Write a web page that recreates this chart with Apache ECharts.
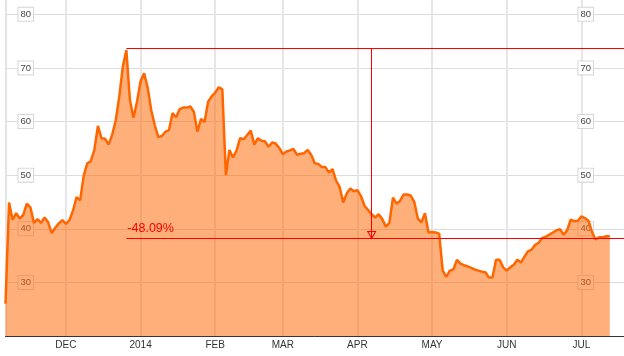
<!DOCTYPE html>
<html>
<head>
<meta charset="utf-8">
<script src="https://cdn.jsdelivr.net/npm/echarts@6/dist/echarts.min.js"></script>
<style>
html,body{margin:0;padding:0;background:#fff;}
#c{width:624px;height:356px;}
</style>
</head>
<body>
<div id="c"></div>
<script>
// Trading days per month (day numbers)
const tradingDays = {
  '2013-11': [6,7,8,11,12,13,14,15,18,19,20,21,22,25,26,27,29],
  '2013-12': [2,3,4,5,6,9,10,11,12,13,16,17,18,19,20,23,24,26,27,30,31],
  '2014-01': [2,3,6,7,8,9,10,13,14,15,16,17,21,22,23,24,27,28,29,30,31],
  '2014-02': [3,4,5,6,7,10,11,12,13,14,18,19,20,21,24,25,26,27,28],
  '2014-03': [3,4,5,6,7,10,11,12,13,14,17,18,19,20,21,24,25,26,27,28,31],
  '2014-04': [1,2,3,4,7,8,9,10,11,14,15,16,17,21,22,23,24,25,28,29,30],
  '2014-05': [1,2,5,6,7,8,9,12,13,14,15,16,19,20,21,22,23,27,28,29,30],
  '2014-06': [2,3,4,5,6,9,10,11,12,13,16,17,18,19,20,23,24,25,26,27,30],
  '2014-07': [1,2,3,7,8,9,10,11,14,15,16,17,18]
};

// Month tick labels (placed at the first trading day of each month)
const tickMonths = ['2013-12','2014-01','2014-02','2014-03','2014-04','2014-05','2014-06','2014-07'];
const tickLabels = ['DEC','2014','FEB','MAR','APR','MAY','JUN','JUL'];

// Y axis tick labels
const yTicks = [30,40,50,60,70,80];

// Daily closing prices
const closes = [
  26.0, 44.9, 41.7, 42.9, 41.9, 42.6, 44.7, 44.0, 41.1, 41.8,
  41.1, 42.1, 41.2, 39.2, 40.2, 41.0, 41.6, 40.9, 41.6, 43.4,
  45.9, 45.3, 49.9, 52.2, 52.6, 54.7, 59.2, 56.9, 56.8, 55.7,
  57.5, 60.2, 64.6, 70.2, 73.3, 64.0, 60.7, 63.7, 67.5, 69.0,
  66.3, 62.1, 59.3, 57.1, 57.3, 58.1, 58.4, 61.6, 60.8, 62.3,
  62.6, 62.6, 62.8, 61.8, 58.1, 60.5, 59.9, 63.7, 64.7, 65.4,
  66.4, 66.0, 50.0, 54.7, 53.3, 54.6, 56.9, 56.7, 57.5, 58.3,
  55.7, 56.9, 56.4, 56.3, 55.3, 56.1, 55.9, 55.1, 53.9, 54.4,
  54.6, 54.9, 53.8, 54.0, 54.1, 54.7, 53.8, 52.2, 52.1, 51.5,
  51.5, 50.5, 51.1, 49.0, 47.8, 44.9, 46.6, 47.5, 47.0, 47.2,
  46.1, 44.3, 43.5, 42.7, 42.1, 42.7, 41.8, 40.4, 41.1, 45.8,
  44.7, 45.2, 46.4, 46.4, 46.2, 45.0, 41.9, 41.2, 42.9, 39.3,
  39.4, 39.3, 39.1, 32.2, 31.0, 32.2, 32.4, 34.2, 33.5, 33.2,
  33.0, 32.7, 32.4, 32.2, 32.0, 31.9, 30.9, 30.9, 34.2, 34.2,
  32.8, 32.2, 32.8, 33.3, 34.2, 33.7, 34.8, 35.8, 36.1, 37.0,
  37.4, 38.3, 38.5, 38.9, 39.3, 39.7, 39.9, 38.9, 39.7, 41.7,
  41.4, 41.5, 42.3, 42.0, 41.5, 39.4, 38.0, 38.4, 38.4, 38.6,
  38.6
];

// Annotation (peak-to-current drop)
const peakDate = '2013-12-26';
const annotEndDate = '2014-07-18';
const arrowDate = '2014-04-07';
const peakLevel = 73.6;
const lastLevel = 38.2;
const changeText = '-48.09%';

const pad = n => (n < 10 ? '0' + n : '' + n);
const categories = [];
Object.keys(tradingDays).forEach(m => {
  tradingDays[m].forEach(d => categories.push(m + '-' + pad(d)));
});
const tickMap = {};
tickMonths.forEach((m, i) => {
  const first = categories.find(c => c.indexOf(m) === 0);
  tickMap[first] = tickLabels[i];
});
const isTick = (idx, val) => tickMap[val] !== undefined;

const FONT = '"Liberation Sans", Arial, Helvetica, sans-serif';

const yAxisBase = {
  type: 'value',
  min: 20,
  max: 82.85,
  interval: 10,
  axisTick: { show: false },
  axisLabel: {
    inside: true,
    customValues: yTicks,
    color: '#444',
    fontSize: 9.5,
    fontFamily: FONT,
    backgroundColor: '#fff',
    borderColor: '#d6d6d6',
    borderWidth: 1,
    padding: [2, 2, 1, 2]
  }
};

const chart = echarts.init(document.getElementById('c'), null, { renderer: 'canvas' });
chart.setOption({
  animation: false,
  backgroundColor: '#fff',
  grid: { left: 5.5, right: 0, top: -1, bottom: 20, containLabel: false, outerBoundsMode: 'none' },
  xAxis: {
    type: 'category',
    data: categories,
    boundaryGap: false,
    axisLine: { show: true, lineStyle: { color: '#333', width: 1 } },
    axisTick: { show: false },
    axisLabel: {
      interval: isTick,
      formatter: v => tickMap[v] || '',
      color: '#333',
      fontSize: 10,
      fontFamily: FONT,
      margin: 4
    },
    splitLine: { show: true, interval: isTick, lineStyle: { color: '#e6e6e6', width: 2 } }
  },
  yAxis: [
    Object.assign({}, yAxisBase, {
      position: 'left',
      axisLine: { show: true, lineStyle: { color: '#e4e4e4', width: 2 } },
      splitLine: { show: true, lineStyle: { color: '#dcdcdc', width: 1 } },
      axisLabel: Object.assign({}, yAxisBase.axisLabel, { margin: 13 })
    }),
    Object.assign({}, yAxisBase, {
      position: 'right',
      axisLine: { show: false },
      splitLine: { show: false },
      axisLabel: Object.assign({}, yAxisBase.axisLabel, { margin: 31 })
    })
  ],
  series: [
    {
      type: 'line',
      data: closes,
      symbol: 'none',
      showSymbol: false,
      lineStyle: { color: '#ff6600', width: 2.5 },
      areaStyle: { color: '#ff6600', opacity: 0.52, origin: 'start' },
      z: 2,
      markLine: {
        silent: true,
        symbol: ['none', 'none'],
        lineStyle: { color: '#ff0000', width: 1, type: 'solid', opacity: 1 },
        label: { show: false },
        emphasis: { disabled: true },
        data: [
          [{ coord: [peakDate, peakLevel] }, { coord: [annotEndDate, peakLevel] }],
          [
            { coord: [peakDate, lastLevel],
              label: { show: true, position: 'insideStartTop', formatter: changeText, color: '#ff0000', fontSize: 12.5, fontFamily: FONT, distance: [1, 3] } },
            { coord: [annotEndDate, lastLevel],
              label: { show: true, position: 'insideStartTop', formatter: changeText, color: '#ff0000', fontSize: 12.5, fontFamily: FONT, distance: [1, 3] } }
          ],
          [{ coord: [arrowDate, peakLevel] }, { coord: [arrowDate, lastLevel] }]
        ]
      }
    },
    {
      type: 'scatter',
      data: [[arrowDate, lastLevel]],
      symbol: 'triangle',
      symbolSize: [8, 7],
      symbolRotate: 180,
      symbolOffset: [0, -3.5],
      itemStyle: { color: 'rgba(0,0,0,0)', borderColor: '#ff0000', borderWidth: 1, opacity: 1 },
      silent: true,
      z: 5
    }
  ]
});
</script>
</body>
</html>
